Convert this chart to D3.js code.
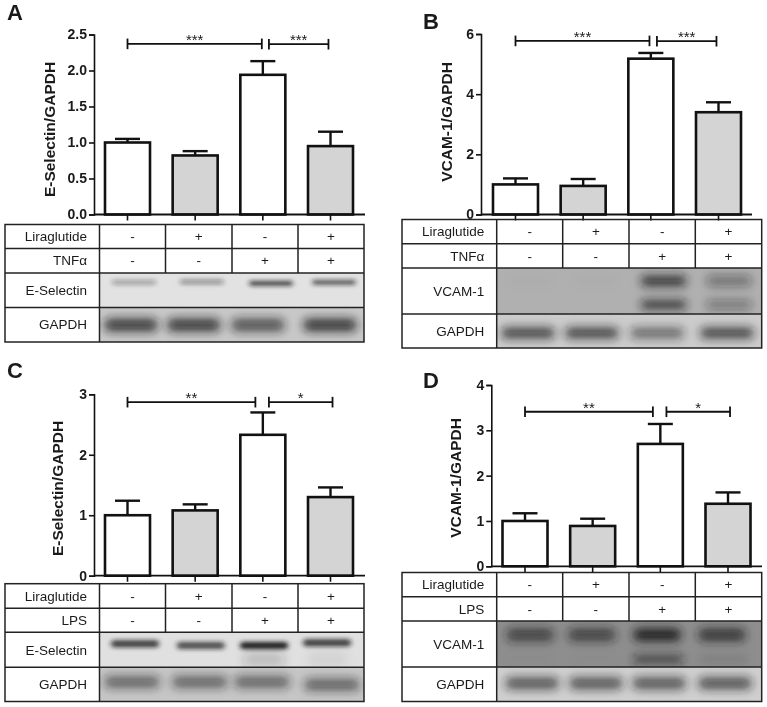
<!DOCTYPE html>
<html><head><meta charset="utf-8">
<style>html,body{margin:0;padding:0;background:#fff}svg{display:block;filter:blur(0.35px)}text{font-family:"Liberation Sans",Arial,sans-serif;fill:#1a1a1a}</style>
<script src="https://cdn.jsdelivr.net/npm/d3@7/dist/d3.min.js"></script></head><body>
<script>
// ---- data ----
const conditions = ["control", "liraglutide", "stimulus", "stimulus+liraglutide"];
const liraglutideSigns = ["-", "+", "-", "+"];
const stimulusSigns = ["-", "-", "+", "+"];

const meansA = [1.0, 0.82, 1.94, 0.95];
const upperA = [1.05, 0.88, 2.13, 1.15];
const ticksA = [0, 0.5, 1, 1.5, 2, 2.5];
const meansB = [1.0, 0.95, 5.18, 3.4];
const upperB = [1.2, 1.18, 5.37, 3.73];
const ticksB = [0, 2, 4, 6];
const meansC = [1.0, 1.08, 2.33, 1.3];
const upperC = [1.24, 1.18, 2.7, 1.46];
const ticksC = [0, 1, 2, 3];
const meansD = [1.0, 0.89, 2.7, 1.38];
const upperD = [1.17, 1.05, 3.14, 1.63];
const ticksD = [0, 1, 2, 3, 4];

// lane band darkness (0..1) read from the blots
const selectinA = [0.34, 0.40, 0.80, 0.70];
const gapdhA = [0.80, 0.80, 0.68, 0.82];
const vcamB1 = [0.02, 0.02, 0.78, 0.42];
const vcamB2 = [0, 0, 0.80, 0.42];
const gapdhB = [0.76, 0.76, 0.56, 0.76];
const selectinC = [0.82, 0.74, 1.0, 0.82];
const smearC = [0, 0, 0.18, 0.06];
const gapdhC = [0.58, 0.58, 0.58, 0.60];
const vcamD1 = [0.66, 0.66, 0.95, 0.74];
const vcamD2 = [0.02, 0.02, 0.68, 0.12];
const gapdhD = [0.68, 0.68, 0.68, 0.70];

// ---- layout ----
const W = 767, H = 707;
const svg = d3.select("body").append("svg").attr("width", W).attr("height", H).attr("viewBox", [0, 0, W, H]);
const defs = svg.append("defs");
[["bandThin", "2.6 1.9"], ["bandSoft", "5 5"]].forEach(([id, sd]) => {
  defs.append("filter").attr("id", id).attr("x", "-30%").attr("y", "-200%").attr("width", "160%").attr("height", "500%")
    .append("feGaussianBlur").attr("stdDeviation", sd);
});
const ink = "#111";

function panel(p, i) {
  const g = svg.append("g");
  g.append("text").attr("x", p.letter[0]).attr("y", p.letter[1]).attr("font-size", 22).attr("font-weight", 700).attr("fill", "#111").text(p.name);

  const y = d3.scaleLinear().domain([0, p.ticks[p.ticks.length - 1]]).range([p.y0, p.yTop]);
  const x = d3.scaleBand().domain(conditions).range(p.barRange).paddingInner(0.335).paddingOuter(0);
  const step = x.step(), c0 = x(conditions[0]) + x.bandwidth() / 2;
  const xi = d3.scaleLinear().domain([0, 1]).range([c0, c0 + step]);

  // bars
  g.append("g").selectAll("rect").data(conditions).join("rect")
    .attr("x", d => x(d)).attr("width", x.bandwidth())
    .attr("y", (d, k) => y(p.means[k])).attr("height", (d, k) => y(0) - y(p.means[k]))
    .attr("fill", (d, k) => k % 2 ? "#d4d4d4" : "#fff").attr("stroke", ink).attr("stroke-width", 2.6);
  // error bars
  const eb = g.append("g").attr("stroke", ink).attr("stroke-width", 2.4);
  eb.selectAll("line.s").data(conditions).join("line").attr("class", "s")
    .attr("x1", d => x(d) + x.bandwidth() / 2).attr("x2", d => x(d) + x.bandwidth() / 2)
    .attr("y1", (d, k) => y(p.means[k])).attr("y2", (d, k) => y(p.upper[k]));
  eb.selectAll("line.c").data(conditions).join("line").attr("class", "c")
    .attr("x1", d => x(d) + x.bandwidth() / 2 - 12.5).attr("x2", d => x(d) + x.bandwidth() / 2 + 12.5)
    .attr("y1", (d, k) => y(p.upper[k])).attr("y2", (d, k) => y(p.upper[k]));

  // axes
  const ya = d3.axisLeft(y).tickValues(p.ticks).tickSize(5).tickPadding(2).tickFormat(p.fmt);
  const yg = g.append("g").attr("transform", `translate(${p.axisX},0)`).call(ya);
  yg.selectAll("path,line").attr("stroke", ink).attr("stroke-width", 1.6);
  yg.selectAll("text").attr("font-size", 14).attr("font-weight", 700).attr("fill", ink);
  const xa = d3.axisBottom(x).tickSize(6).tickFormat("");
  const xg = g.append("g").attr("transform", `translate(0,${p.y0})`).call(xa);
  xg.select(".domain").remove();
  xg.selectAll("line").attr("stroke", ink).attr("stroke-width", 1.6);
  g.append("line").attr("x1", p.axisX).attr("x2", p.axisEnd).attr("y1", p.y0).attr("y2", p.y0).attr("stroke", ink).attr("stroke-width", 1.8);
  g.append("text").attr("transform", `translate(${p.titleX},${(p.titleCy)}) rotate(-90)`)
    .attr("text-anchor", "middle").attr("font-size", 15.5).attr("font-weight", 700).attr("fill", ink).text(p.title);

  // significance brackets
  p.brackets.forEach(b => {
    const by = y(b.at), x1 = xi(b.from), x2 = xi(b.to);
    const br = g.append("g").attr("stroke", "#111").attr("stroke-width", 1.8);
    br.append("line").attr("x1", x1).attr("x2", x2).attr("y1", by).attr("y2", by);
    br.append("line").attr("x1", x1).attr("x2", x1).attr("y1", by - 5.3).attr("y2", by + 5.3);
    br.append("line").attr("x1", x2).attr("x2", x2).attr("y1", by - 5.3).attr("y2", by + 5.3);
    g.append("text").attr("x", (x1 + x2) / 2).attr("y", by + 1).attr("text-anchor", "middle").attr("font-size", 15).text(b.label);
  });

  // table
  const t = p.table, cols = t.cols, rows = t.rows;
  const cx = k => (cols[k] + cols[k + 1]) / 2;
  const tg = g.append("g");
  // blots
  [0, 1].forEach(r => {
    const blot = p.blots[r], top = rows[2 + r], bot = rows[3 + r], id = `clip${i}${r}`;
    defs.append("clipPath").attr("id", id).append("rect").attr("x", cols[0]).attr("y", top).attr("width", cols[4] - cols[0]).attr("height", bot - top);
    const bg = tg.append("g").attr("clip-path", `url(#${id})`);
    bg.append("rect").attr("x", cols[0]).attr("y", top).attr("width", cols[4] - cols[0]).attr("height", bot - top).attr("fill", blot.bg);
    blot.bands.forEach(b => {
      bg.append("g").attr("filter", b.ry < 4 ? "url(#bandThin)" : "url(#bandSoft)").selectAll("rect").data(b.dark).join("rect")
        .attr("x", (d, k) => cx(k) + b.shift[k] - b.rx).attr("width", 2 * b.rx)
        .attr("y", (d, k) => top + (bot - top) * (b.frac + (b.tilt ? b.tilt[k] : 0)) - b.ry).attr("height", 2 * b.ry)
        .attr("rx", b.ry).attr("fill", "#1c1c1c").attr("opacity", d => d);
    });
  });
  // grid
  const lines = tg.append("g").attr("stroke", "#222").attr("stroke-width", 1.5).attr("fill", "none");
  lines.append("rect").attr("x", t.x0).attr("y", rows[0]).attr("width", cols[4] - t.x0).attr("height", rows[4] - rows[0]);
  rows.slice(1, 4).forEach(r => lines.append("line").attr("x1", t.x0).attr("x2", cols[4]).attr("y1", r).attr("y2", r));
  lines.append("line").attr("x1", cols[0]).attr("x2", cols[0]).attr("y1", rows[0]).attr("y2", rows[4]);
  cols.slice(1, 4).forEach(c => lines.append("line").attr("x1", c).attr("x2", c).attr("y1", rows[0]).attr("y2", rows[2]));

  const labelX = cols[0] - 12.5;
  const rowLabels = ["Liraglutide", p.stimulus, p.blotName, "GAPDH"];
  rowLabels.forEach((s, r) => tg.append("text").attr("x", labelX).attr("y", (rows[r] + rows[r + 1]) / 2 + 4.7)
    .attr("text-anchor", "end").attr("font-size", 13.5).attr("fill", "#222").text(s));
  [liraglutideSigns, stimulusSigns].forEach((arr, r) => {
    tg.append("g").selectAll("text").data(arr).join("text")
      .attr("x", (d, k) => cx(k)).attr("y", (rows[r] + rows[r + 1]) / 2 + 4.7)
      .attr("text-anchor", "middle").attr("font-size", 13.5).attr("fill", "#222").text(d => d);
  });
}

const f1 = d3.format(".1f"), f0 = d3.format("d");
const panels = [
  { name: "A", letter: [7, 20], title: "E-Selectin/GAPDH", titleX: 55, titleCy: 129.5, means: meansA, upper: upperA, ticks: ticksA, fmt: f1,
    axisX: 94, axisEnd: 365, y0: 214.5, yTop: 34.5, barRange: [105, 353], stimulus: "TNFα", blotName: "E-Selectin",
    brackets: [{ from: 0, to: 1.985, at: 2.37, label: "***" }, { from: 2.09, to: 2.97, at: 2.365, label: "***" }],
    table: { x0: 5, cols: [99.5, 165.5, 232, 298, 364], rows: [224.5, 248.5, 273, 307.5, 342] },
    blots: [{ bg: "#e2e2e2", bands: [{ frac: 0.27, ry: 2.4, rx: 22, shift: [1.5, 3, 6, 3], tilt: [0, -0.01, 0.03, 0], dark: selectinA }] },
            { bg: "#c8c8c8", bands: [{ frac: 0.51, ry: 6.5, rx: 27, shift: [-1.5, -5, -7, -1], dark: gapdhA }] }] },
  { name: "B", letter: [423, 29], title: "VCAM-1/GAPDH", titleX: 452, titleCy: 122, means: meansB, upper: upperB, ticks: ticksB, fmt: f0,
    axisX: 481, axisEnd: 752, y0: 214.5, yTop: 34, barRange: [493, 741], stimulus: "TNFα", blotName: "VCAM-1",
    brackets: [{ from: 0, to: 1.98, at: 5.77, label: "***" }, { from: 2.09, to: 2.97, at: 5.76, label: "***" }],
    table: { x0: 402, cols: [496.7, 562.7, 629, 695.3, 761.7], rows: [219.5, 243.7, 268, 314, 348] },
    blots: [{ bg: "#b0b0b0", bands: [{ frac: 0.28, ry: 5.5, rx: 23, shift: [0, 0, 1.5, 0.5], dark: vcamB1 }, { frac: 0.80, ry: 4.5, rx: 23, shift: [0, 0, 1.5, 0.5], dark: vcamB2 }] },
            { bg: "#cccccc", bands: [{ frac: 0.56, ry: 5.5, rx: 27, shift: [-1.7, -4, -5, -1.5], dark: gapdhB }] }] },
  { name: "C", letter: [7, 378], title: "E-Selectin/GAPDH", titleX: 63, titleCy: 488.5, means: meansC, upper: upperC, ticks: ticksC, fmt: f0,
    axisX: 94, axisEnd: 365, y0: 575.7, yTop: 394.3, barRange: [105, 353], stimulus: "LPS", blotName: "E-Selectin",
    brackets: [{ from: 0, to: 1.89, at: 2.87, label: "**" }, { from: 2.09, to: 3.03, at: 2.87, label: "*" }],
    table: { x0: 5, cols: [99.5, 165.5, 232, 298, 364], rows: [583.7, 608.3, 632.3, 667.3, 701.5] },
    blots: [{ bg: "#e0e0e0", bands: [{ frac: 0.33, ry: 3.5, rx: 24, shift: [2.5, 2, -1, -4], tilt: [0, 0.05, 0.05, -0.03], dark: selectinC }, { frac: 0.78, ry: 8, rx: 21, shift: [2.5, 2, -1, -4], dark: smearC }] },
            { bg: "#c6c6c6", bands: [{ frac: 0.43, ry: 6, rx: 28, shift: [-0.5, 1, -3, 1], tilt: [0, 0, 0, 0.08], dark: gapdhC }] }] },
  { name: "D", letter: [423, 388], title: "VCAM-1/GAPDH", titleX: 461, titleCy: 478, means: meansD, upper: upperD, ticks: ticksD, fmt: f0,
    axisX: 491.3, axisEnd: 762, y0: 566.3, yTop: 385, barRange: [502.5, 750.5], stimulus: "LPS", blotName: "VCAM-1",
    brackets: [{ from: 0, to: 1.89, at: 3.41, label: "**" }, { from: 2.09, to: 3.03, at: 3.41, label: "*" }],
    table: { x0: 402, cols: [496.7, 562.7, 629, 695.3, 761.7], rows: [572.5, 596.7, 621, 667, 701.5] },
    blots: [{ bg: "#8e8e8e", bands: [{ frac: 0.30, ry: 6.5, rx: 24, shift: [0.5, -4, -5, -6.5], dark: vcamD1 }, { frac: 0.83, ry: 4, rx: 25, shift: [0, 0, -4, -5], dark: vcamD2 }] },
            { bg: "#cfcfcf", bands: [{ frac: 0.47, ry: 6, rx: 27, shift: [2.5, 0, -3, -3.5], dark: gapdhD }] }] }
];
panels.forEach(panel);
</script></body></html>
